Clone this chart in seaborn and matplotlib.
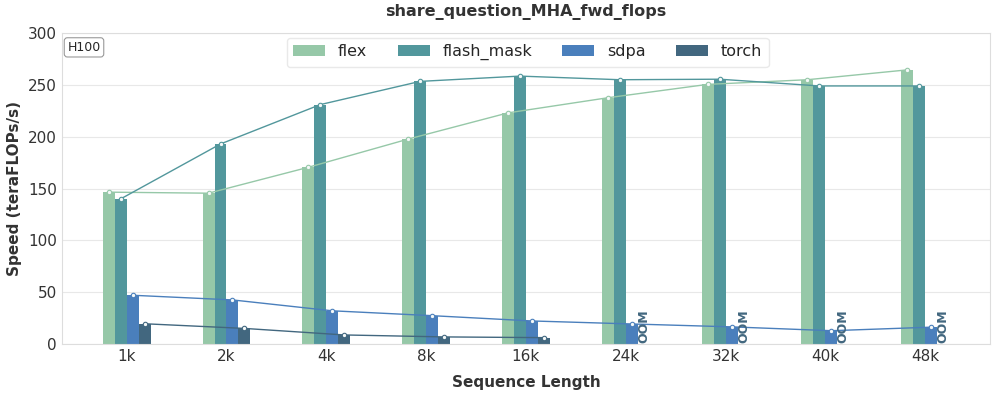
import numpy as np
import pandas as pd
import matplotlib
matplotlib.use("Agg")
import matplotlib.pyplot as plt
import seaborn as sns

# Chart values
seq_lens = ['1k', '2k', '4k', '8k', '16k', '24k', '32k', '40k', '48k']
methods = ['flex', 'flash_mask', 'sdpa', 'torch']
flex = [146.5, 145.5, 170.5, 197.7, 223.0, 237.6, 250.5, 255.0, 264.5]
flash_mask = [140.0, 193.0, 231.0, 253.4, 258.5, 255.0, 255.5, 249.0, 249.0]
sdpa = [47.0, 42.5, 32.0, 27.3, 22.2, 19.3, 16.5, 12.8, 16.2]
torch = [19.5, 15.0, 8.7, 6.8, 6.1, np.nan, np.nan, np.nan, np.nan]
colors = ['#96c8a8', '#52979c', '#4a7fbc', '#42677f']

values = {'flex': flex, 'flash_mask': flash_mask, 'sdpa': sdpa, 'torch': torch}
df = pd.DataFrame([(s, m, values[m][i]) for m in methods for i, s in enumerate(seq_lens)],
                  columns=['seq', 'method', 'speed'])

sns.set_style("whitegrid")
plt.rcParams['font.family'] = ['DejaVu Sans']

fig, ax = plt.subplots(figsize=(9.97, 3.94), dpi=100)
sns.barplot(data=df, x='seq', y='speed', hue='method', hue_order=methods,
            order=seq_lens, palette=colors, width=0.48, gap=0, saturation=1,
            edgecolor='none', ax=ax)

# bar width from the drawn bars, offsets of each hue inside a group
bw = ax.containers[0][0].get_width()
for k, (m, c) in enumerate(zip(methods, colors)):
    off = (k - (len(methods) - 1) / 2) * bw
    xs, ys = [], []
    for i, v in enumerate(values[m]):
        if np.isnan(v):
            ax.text(i + off, 1, 'OOM', rotation=90, ha='center', va='bottom',
                    fontsize=9, fontweight='bold', color='#42677f')
            continue
        xs.append(i + off)
        ys.append(v)
    ax.plot(xs, ys, color=c, lw=1, marker='o', ms=3.2, mfc='#f4f8f8', mec=c, mew=0.8)

ax.set_ylim(0, 300)
ax.set_xlim(-0.65, 8.65)
ax.set_title('share_question_MHA_fwd_flops', fontsize=11.5, fontweight='bold',
             color='#333333', pad=12)
ax.set_xlabel('Sequence Length', fontsize=11, fontweight='bold', color='#333333', labelpad=8)
ax.set_ylabel('Speed (teraFLOPs/s)', fontsize=11, fontweight='bold', color='#333333')
ax.tick_params(axis='both', labelsize=11, colors='#333333', length=0)
ax.grid(axis='x', visible=False)
ax.grid(axis='y', color='#e8e8e8', lw=0.8)
for sp in ax.spines.values():
    sp.set_color('#dddddd')

ax.legend(loc='upper center', ncol=4, fontsize=11.5, frameon=True, handlelength=2.0,
          columnspacing=1.9, bbox_to_anchor=(0.502, 1.0), borderaxespad=0.3,
          edgecolor='#e4e4e4')
ax.text(0.006, 0.975, 'H100', transform=ax.transAxes, ha='left', va='top', fontsize=9,
        bbox=dict(boxstyle='round,pad=0.25', fc='white', ec='#999999', lw=0.8))

plt.subplots_adjust(left=0.062, right=0.993, top=0.916, bottom=0.127)
plt.savefig('out.png', dpi=100)
